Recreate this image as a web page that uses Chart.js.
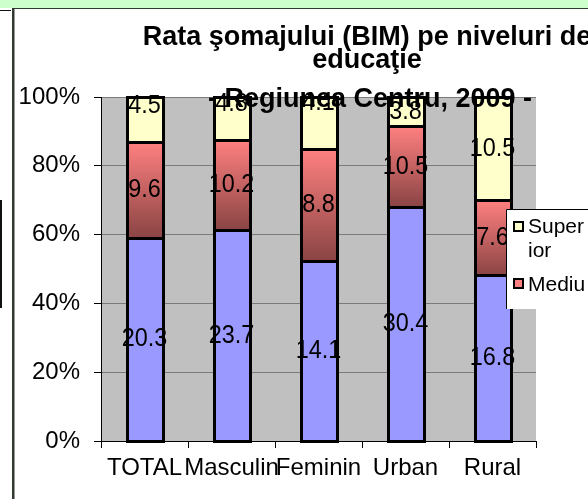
<!DOCTYPE html>
<html>
<head>
<meta charset="utf-8">
<script src="https://cdn.jsdelivr.net/npm/chart.js@4/dist/chart.umd.min.js"></script>
<style>
  html, body { margin: 0; padding: 0; background: #fff; }
  canvas { display: block; }
</style>
</head>
<body>
<canvas id="somajChart" width="588" height="499"></canvas>
<script>
// Rata somajului (BIM) pe niveluri de educatie - Regiunea Centru, 2009

const categories = ['TOTAL', 'Masculin', 'Feminin', 'Urban', 'Rural'];
const scazut = [20.3, 23.7, 14.1, 30.4, 16.8];
const mediu = [9.6, 10.2, 8.8, 10.5, 7.6];
const superior = [4.5, 4.8, 4.1, 3.8, 10.5];
const seriesNames = ['Scăzut', 'Mediu', 'Superior'];
const yTicks = [0, 20, 40, 60, 80, 100];
const titleLines = ['Rata şomajului (BIM) pe niveluri de', 'educaţie', '- Regiunea Centru, 2009 -'];

const totals = categories.map((_, i) => scazut[i] + mediu[i] + superior[i]);
const share = arr => arr.map((v, i) => v / totals[i] * 100);

const FONT = 'Arial, "Liberation Sans", sans-serif';

// bar fill for the middle series: red fading to dark brown going down
function redGradient(context) {
  const chart = context.chart;
  const i = context.dataIndex;
  if (i === undefined || !chart.chartArea) return '#FF8080';
  const y = chart.scales.y;
  const lo = share(scazut)[i];
  const hi = lo + share(mediu)[i];
  const g = chart.ctx.createLinearGradient(0, y.getPixelForValue(hi), 0, y.getPixelForValue(lo));
  g.addColorStop(0, '#FF8080');
  g.addColorStop(1, '#8A4444');
  return g;
}

const plotBackground = {
  id: 'plotBackground',
  beforeDraw(chart) {
    const { ctx, chartArea: a } = chart;
    ctx.save();
    ctx.fillStyle = '#C0C0C0';
    ctx.fillRect(a.left, a.top, a.right - a.left, a.bottom - a.top);
    ctx.restore();
  }
};

// outlines drawn on the segment edges so stacked segments share one line
const barOutlines = {
  id: 'barOutlines',
  afterDatasetsDraw(chart) {
    const ctx = chart.ctx;
    ctx.save();
    ctx.strokeStyle = '#000';
    ctx.lineWidth = 3;
    ctx.lineJoin = 'miter';
    chart.data.datasets.forEach((ds, d) => {
      chart.getDatasetMeta(d).data.forEach(bar => {
        const p = bar.getProps(['x', 'y', 'base', 'width'], true);
        ctx.strokeRect(Math.round(p.x - p.width / 2) + 0.5, Math.round(p.y) + 0.5,
          Math.round(p.width), Math.round(p.base) - Math.round(p.y));
      });
    });
    ctx.restore();
  }
};

const valueLabels = {
  id: 'valueLabels',
  afterDatasetsDraw(chart, args, opts) {
    const ctx = chart.ctx;
    ctx.save();
    ctx.font = '26px ' + FONT;
    ctx.fillStyle = '#000';
    ctx.textAlign = 'center';
    ctx.textBaseline = 'middle';
    chart.data.datasets.forEach((ds, d) => {
      const meta = chart.getDatasetMeta(d);
      const nudge = opts.nudge[d] || [];
      meta.data.forEach((bar, j) => {
        const y = (bar.y + bar.base) / 2 + (nudge[j] || 0);
        ctx.save();
        ctx.translate(bar.x, y);
        ctx.scale(0.9, 1); // labels in the source are a bit condensed
        ctx.fillText(ds.raw[j].toFixed(1), 0, 0);
        ctx.restore();
      });
    });
    ctx.restore();
  }
};

const frameAndTitle = {
  id: 'frameAndTitle',
  afterDraw(chart) {
    const ctx = chart.ctx;
    ctx.save();
    // page frame bits
    ctx.fillStyle = '#CCFFCC';
    ctx.fillRect(0, 0, 588, 8);
    ctx.fillStyle = '#2E3B2E';
    ctx.fillRect(12, 8, 2, 491);
    ctx.fillRect(12, 8, 576, 1);
    ctx.fillStyle = '#9A9A9A';
    ctx.fillRect(14, 9, 1, 490);
    ctx.fillStyle = '#111';
    ctx.fillRect(0, 10, 11, 1);
    ctx.fillRect(0, 200, 2, 108);

    // title
    ctx.fillStyle = '#000';
    ctx.font = 'bold 27px ' + FONT;
    ctx.textAlign = 'center';
    ctx.textBaseline = 'alphabetic';
    ctx.fillText(titleLines[0], 367, 45);
    ctx.fillText(titleLines[1], 367, 68);
    ctx.fillText(titleLines[2], 370, 107);

    // legend (clipped at the right edge like the source)
    ctx.fillStyle = '#fff';
    ctx.fillRect(506, 209, 90, 100);
    ctx.strokeStyle = '#000';
    ctx.lineWidth = 1;
    ctx.beginPath();
    ctx.moveTo(506.5, 309);
    ctx.lineTo(506.5, 209.5);
    ctx.lineTo(588, 209.5);
    ctx.stroke();
    const entries = [
      { name: seriesNames[2], color: '#FFFFCC', box: 222, lines: ['Super', 'ior'], ty: [227, 251] },
      { name: seriesNames[1], color: '#FF8080', box: 279, lines: ['Mediu'], ty: [285] }
    ];
    ctx.font = '21px ' + FONT;
    ctx.textAlign = 'left';
    ctx.textBaseline = 'middle';
    entries.forEach(e => {
      ctx.fillStyle = e.color;
      ctx.fillRect(514, e.box, 9, 9);
      ctx.lineWidth = 2;
      ctx.strokeStyle = '#000';
      ctx.strokeRect(514, e.box, 9, 9);
      ctx.fillStyle = '#000';
      e.lines.forEach((t, k) => ctx.fillText(t, 528, e.ty[k]));
    });
    ctx.restore();
  }
};

new Chart(document.getElementById('somajChart'), {
  type: 'bar',
  data: {
    labels: categories,
    datasets: [
      { label: seriesNames[0], data: share(scazut), raw: scazut, backgroundColor: '#9999FF' },
      { label: seriesNames[1], data: share(mediu), raw: mediu, backgroundColor: redGradient },
      { label: seriesNames[2], data: share(superior), raw: superior, backgroundColor: '#FFFFCC' }
    ].map(ds => Object.assign(ds, {
      borderWidth: 0,
      barPercentage: 0.41,
      categoryPercentage: 1
    }))
  },
  options: {
    responsive: false,
    animation: false,
    layout: { padding: { left: 0, right: 52, top: 97, bottom: 0 } },
    plugins: {
      legend: { display: false },
      title: { display: false },
      tooltip: { enabled: false },
      valueLabels: { nudge: { 2: [-14, -15, -20, 0, 0] } }
    },
    scales: {
      x: {
        stacked: true,
        offset: true,
        grid: { drawOnChartArea: false, drawTicks: true, tickLength: 7, tickColor: '#000', offset: true },
        border: { color: '#000', width: 1 },
        ticks: { color: '#000', font: { family: FONT, size: 24 }, padding: 6, autoSkip: false, maxRotation: 0, minRotation: 0 },
        afterFit(scale) { scale.height = 58; }
      },
      y: {
        stacked: true,
        min: 0,
        max: 100,
        afterBuildTicks(scale) { scale.ticks = yTicks.map(v => ({ value: v })); },
        grid: { color: '#7A7A7A', tickColor: '#000', tickLength: 7, lineWidth: 1 },
        border: { color: '#000', width: 1 },
        ticks: { color: '#000', font: { family: FONT, size: 24 }, padding: 14, callback: v => v + '%' },
        afterFit(scale) { scale.width = 101; }
      }
    }
  },
  plugins: [plotBackground, barOutlines, valueLabels, frameAndTitle]
});
</script>
</body>
</html>
